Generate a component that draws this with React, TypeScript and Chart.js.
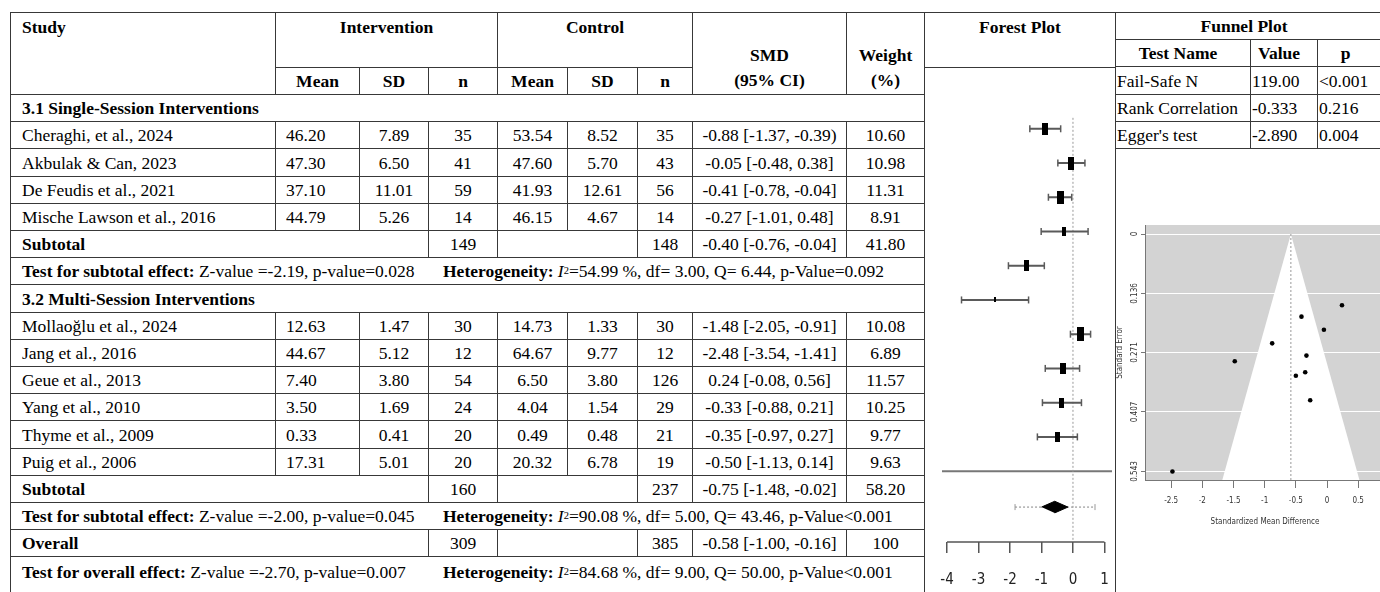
import React, { useEffect, useRef } from "react";
import { Chart, registerables } from "chart.js";
Chart.register(...registerables);

// ---------------- DATA ----------------
const studies = [
  "Cheraghi, et al., 2024",
  "Akbulak & Can, 2023",
  "De Feudis et al., 2021",
  "Mische Lawson et al., 2016",
  "Mollaoğlu et al., 2024",
  "Jang et al., 2016",
  "Geue et al., 2013",
  "Yang et al., 2010",
  "Thyme et al., 2009",
  "Puig et al., 2006",
];
const intMean = ["46.20", "47.30", "37.10", "44.79", "12.63", "44.67", "7.40", "3.50", "0.33", "17.31"];
const intSD = ["7.89", "6.50", "11.01", "5.26", "1.47", "5.12", "3.80", "1.69", "0.41", "5.01"];
const intN = ["35", "41", "59", "14", "30", "12", "54", "24", "20", "20"];
const ctrlMean = ["53.54", "47.60", "41.93", "46.15", "14.73", "64.67", "6.50", "4.04", "0.49", "20.32"];
const ctrlSD = ["8.52", "5.70", "12.61", "4.67", "1.33", "9.77", "3.80", "1.54", "0.48", "6.78"];
const ctrlN = ["35", "43", "56", "14", "30", "12", "126", "29", "21", "19"];
const smdLabels = [
  "-0.88 [-1.37, -0.39)",
  "-0.05 [-0.48, 0.38]",
  "-0.41 [-0.78, -0.04]",
  "-0.27 [-1.01, 0.48]",
  "-1.48 [-2.05, -0.91]",
  "-2.48 [-3.54, -1.41]",
  "0.24 [-0.08, 0.56]",
  "-0.33 [-0.88, 0.21]",
  "-0.35 [-0.97, 0.27]",
  "-0.50 [-1.13, 0.14]",
];
const smd = [-0.88, -0.05, -0.41, -0.27, -1.48, -2.48, 0.24, -0.33, -0.35, -0.5];
const ciLow = [-1.37, -0.48, -0.78, -1.01, -2.05, -3.54, -0.08, -0.88, -0.97, -1.13];
const ciHigh = [-0.39, 0.38, -0.04, 0.48, -0.91, -1.41, 0.56, 0.21, 0.27, 0.14];
const weights = [10.6, 10.98, 11.31, 8.91, 10.08, 6.89, 11.57, 10.25, 9.77, 9.63];
const stdErr = [0.25, 0.219, 0.189, 0.38, 0.291, 0.543, 0.163, 0.278, 0.316, 0.324];

const groupTitles = ["3.1 Single-Session Interventions", "3.2 Multi-Session Interventions"];
const groupStart = [0, 4];
const groupEnd = [4, 10];
const groupIntN = ["149", "160"];
const groupCtrlN = ["148", "237"];
const groupSMD = ["-0.40 [-0.76, -0.04]", "-0.75 [-1.48, -0.02]"];
const groupWeight = ["41.80", "58.20"];
const groupZ = ["Z-value =-2.19, p-value=0.028", "Z-value =-2.00, p-value=0.045"];
const groupHet = ["=54.99 %, df= 3.00, Q= 6.44, p-Value=0.092", "=90.08 %, df= 5.00, Q= 43.46, p-Value<0.001"];

const overallIntN = "309";
const overallCtrlN = "385";
const overallSMDLabel = "-0.58 [-1.00, -0.16]";
const overallWeight = "100";
const overallZ = "Z-value =-2.70, p-value=0.007";
const overallHet = "=84.68 %, df= 9.00, Q= 50.00, p-Value<0.001";

const overallSMD = -0.58;
const overallLow = -1.0;
const overallHigh = -0.16;
const predLow = -1.84;
const predHigh = 0.7;

const forestTicks = [-4, -3, -2, -1, 0, 1];

const testNames = ["Fail-Safe N", "Rank Correlation", "Egger's test"];
const testValues = ["119.00", "-0.333", "-2.890"];
const testP = ["<0.001", "0.216", "0.004"];

const funnelXTicks = [-2.5, -2, -1.5, -1, -0.5, 0, 0.5];
const funnelYTicks = [0, 0.136, 0.271, 0.407, 0.543];
const funnelSeMax = 0.5625;
const funnelTriangle = [
  { x: -1.68, y: 0.5625 },
  { x: -0.58, y: 0 },
  { x: 0.52, y: 0.5625 },
];

// ---------------- STYLE ----------------
const SERIF = "'Liberation Serif', 'Times New Roman', serif";
const NARROW = "'Liberation Sans Narrow', 'DejaVu Sans Condensed', 'Liberation Sans', sans-serif";
const LINE = "#383838";

const colX = [10, 275, 359, 428, 497, 567, 637, 692, 846, 924];
const rowTop = 94;
const rowStep = 27.2;
const rowY = (k: number) => Math.round(rowTop + k * rowStep);

// forest geometry (row units)
const F_XMIN = -4.16;
const F_XMAX = 1.24;
const F_YMIN = -1.6;
const F_YMAX = 12.07;
const F_SEP = 10;
const F_SUM = 11.05;

function makeBox(w: number, h: number) {
  const c = document.createElement("canvas");
  c.width = Math.max(1, Math.round(w));
  c.height = Math.max(1, Math.round(h));
  const g = c.getContext("2d")!;
  g.fillStyle = "#000";
  g.fillRect(0, 0, c.width, c.height);
  return c;
}

function forestConfig(): any {
  const idx = studies.map((_, i) => i);
  const wMin = Math.min(...weights);
  const wMax = Math.max(...weights);
  const boxes = idx.map((i) => {
    const ps = 0.5 + (weights[i] - wMin) / (wMax - wMin);
    return makeBox(ps * 4.6, ps * 9.3);
  });
  const ciData: any[] = [];
  idx.forEach((i) => {
    ciData.push({ x: ciLow[i], y: i }, { x: ciHigh[i], y: i }, { x: ciHigh[i], y: null });
  });
  return {
    type: "scatter",
    data: {
      datasets: [
        {
          type: "scatter",
          data: idx.map((i) => ({ x: smd[i], y: i })),
          pointStyle: boxes,
          pointRadius: 5,
          order: 0,
        },
        {
          type: "line",
          data: [
            { x: overallLow, y: F_SUM },
            { x: overallSMD, y: F_SUM - 0.17 },
            { x: overallHigh, y: F_SUM },
            { x: overallSMD, y: F_SUM + 0.17 },
          ],
          fill: "shape",
          backgroundColor: "#000",
          borderColor: "#000",
          borderWidth: 1,
          pointRadius: 0,
          order: 1,
        },
        {
          type: "scatter",
          data: idx.flatMap((i) => [
            { x: ciLow[i], y: i },
            { x: ciHigh[i], y: i },
          ]),
          pointStyle: "line",
          pointRotation: 90,
          pointRadius: 3.5,
          pointBorderColor: "#5a5a5a",
          pointBorderWidth: 1.5,
          order: 2,
        },
        {
          type: "line",
          data: ciData,
          borderColor: "#5a5a5a",
          borderWidth: 2,
          pointRadius: 0,
          spanGaps: false,
          order: 3,
        },
        {
          type: "line",
          data: [
            { x: predLow, y: F_SUM },
            { x: predHigh, y: F_SUM },
          ],
          borderColor: "#999",
          borderDash: [2, 2],
          borderWidth: 1.2,
          pointRadius: 0,
          order: 4,
        },
        {
          type: "scatter",
          data: [
            { x: predLow, y: F_SUM },
            { x: predHigh, y: F_SUM },
          ],
          pointStyle: "line",
          pointRotation: 90,
          pointRadius: 3,
          pointBorderColor: "#999",
          pointBorderWidth: 1,
          order: 4,
        },
        {
          type: "line",
          data: [
            { x: 0, y: -0.32 },
            { x: 0, y: F_YMAX },
          ],
          borderColor: "#999",
          borderDash: [2, 2],
          borderWidth: 1,
          pointRadius: 0,
          order: 5,
        },
        {
          type: "line",
          data: [
            { x: F_XMIN, y: F_SEP },
            { x: F_XMAX, y: F_SEP },
          ],
          borderColor: "#777",
          borderWidth: 2,
          pointRadius: 0,
          order: 6,
        },
        {
          type: "line",
          data: [
            { x: forestTicks[0], y: F_YMAX },
            { x: forestTicks[forestTicks.length - 1], y: F_YMAX },
          ],
          borderColor: "#555",
          borderWidth: 1.5,
          pointRadius: 0,
          clip: false,
          order: 7,
        },
      ],
    },
    options: {
      animation: false,
      responsive: false,
      maintainAspectRatio: false,
      events: [],
      layout: { padding: { left: 17, right: 2, top: 5, bottom: 0 } },
      plugins: { legend: { display: false }, tooltip: { enabled: false } },
      scales: {
        x: {
          type: "linear",
          min: F_XMIN,
          max: F_XMAX,
          afterBuildTicks: (s: any) => {
            s.ticks = forestTicks.map((v) => ({ value: v }));
          },
          afterFit: (s: any) => {
            s.height = 50;
          },
          border: { display: false },
          grid: { drawOnChartArea: false, drawTicks: true, tickLength: 11, color: "#555", lineWidth: 1.5 },
          ticks: {
            padding: 0,
            autoSkip: false,
            maxRotation: 0,
            color: "#222",
            font: { family: NARROW, size: 15, lineHeight: 1.2 },
            callback: (v: any) => ["", String(v)],
          },
        },
        y: { type: "linear", display: false, min: F_YMIN, max: F_YMAX, reverse: true },
      },
    },
  };
}

const plotBg = {
  id: "plotBg",
  beforeDraw(chart: any) {
    const { ctx, chartArea: a } = chart;
    ctx.save();
    ctx.fillStyle = "#d3d3d3";
    ctx.fillRect(a.left, a.top, a.right - a.left, a.bottom - a.top);
    ctx.restore();
  },
};

function funnelConfig(): any {
  const idx = studies.map((_, i) => i);
  return {
    type: "scatter",
    data: {
      datasets: [
        {
          type: "scatter",
          data: idx.map((i) => ({ x: smd[i], y: stdErr[i] })),
          pointRadius: 2.3,
          pointBackgroundColor: "#000",
          pointBorderColor: "#000",
          pointBorderWidth: 0,
          order: 0,
        },
        {
          type: "line",
          data: [
            { x: overallSMD, y: 0 },
            { x: overallSMD, y: funnelSeMax },
          ],
          borderColor: "#999",
          borderDash: [2, 2],
          borderWidth: 1,
          pointRadius: 0,
          order: 1,
        },
        {
          type: "line",
          data: funnelTriangle,
          fill: "shape",
          backgroundColor: "#ffffff",
          borderColor: "rgba(0,0,0,0)",
          borderWidth: 0,
          pointRadius: 0,
          order: 2,
        },
      ],
    },
    plugins: [plotBg],
    options: {
      animation: false,
      responsive: false,
      maintainAspectRatio: false,
      events: [],
      layout: { padding: { left: 0, right: 5, top: 25, bottom: 32 } },
      plugins: { legend: { display: false }, tooltip: { enabled: false } },
      scales: {
        x: {
          type: "linear",
          min: -2.92,
          max: 0.93,
          afterBuildTicks: (s: any) => {
            s.ticks = funnelXTicks.map((v) => ({ value: v }));
          },
          afterFit: (s: any) => {
            s.height = 48;
          },
          border: { display: true, color: "#777", width: 1 },
          grid: { drawOnChartArea: false, drawTicks: true, tickLength: 8, color: "#777" },
          ticks: {
            padding: 8,
            autoSkip: false,
            maxRotation: 0,
            color: "#333",
            font: { family: NARROW, size: 8 },
            callback: (v: any) => String(v),
          },
          title: {
            display: true,
            text: "Standardized Mean Difference",
            color: "#333",
            font: { family: NARROW, size: 8 },
            padding: { top: 0, bottom: 1 },
          },
        },
        y: {
          type: "linear",
          min: -0.0206,
          max: funnelSeMax,
          reverse: true,
          afterBuildTicks: (s: any) => {
            s.ticks = funnelYTicks.map((v) => ({ value: v }));
          },
          afterFit: (s: any) => {
            s.width = 30;
          },
          border: { display: true, color: "#777", width: 1 },
          grid: { color: "#ffffff", lineWidth: 1, tickColor: "#777", tickLength: 4, drawTicks: true },
          ticks: {
            minRotation: 90,
            maxRotation: 90,
            crossAlign: "center",
            padding: -4,
            autoSkip: false,
            color: "#333",
            font: { family: NARROW, size: 8 },
            callback: (v: any) => String(v),
          },
          title: {
            display: true,
            text: "Standard Error",
            color: "#333",
            font: { family: NARROW, size: 8 },
            padding: { top: 0, bottom: 0 },
          },
        },
      },
    },
  };
}

// ---------------- TABLE CELLS ----------------
type CellProps = {
  x0: number;
  x1: number;
  y0: number;
  y1: number;
  children?: any;
  align?: string;
  valign?: string;
  bold?: boolean;
  padL?: number;
  padT?: number;
  padR?: number;
  lh?: number;
};

function Cell(p: CellProps) {
  return (
    <div
      style={{
        position: "absolute",
        left: p.x0,
        top: p.y0,
        width: p.x1 - p.x0 + 1,
        height: p.y1 - p.y0 + 1,
        boxSizing: "border-box",
        border: `1px solid ${LINE}`,
        display: "flex",
        flexDirection: "column",
        alignItems: p.align || "center",
        justifyContent: p.valign || "center",
        paddingLeft: p.padL || 0,
        paddingRight: p.padR || 0,
        paddingTop: p.padT || 0,
        fontWeight: p.bold ? "bold" : "normal",
        whiteSpace: "nowrap",
        lineHeight: `${p.lh || 20}px`,
        textAlign: "center",
      }}
    >
      {p.children}
    </div>
  );
}

function Het({ text }: { text: string }) {
  return (
    <span style={{ position: "absolute", left: 432, top: 0, bottom: 0, display: "flex", alignItems: "center" }}>
      <b>Heterogeneity:</b>&nbsp;
      <i>I</i>
      <sup style={{ fontSize: "0.6em", lineHeight: 0, verticalAlign: "0.6em" }}>2</sup>
      {text}
    </span>
  );
}

function TestRow({ k, label, z, het }: { k: number; label: string; z: string; het: string }) {
  const last = k === 17;
  const y0 = rowY(k);
  const y1 = last ? 600 : rowY(k + 1);
  return (
    <Cell x0={colX[0]} x1={colX[9]} y0={y0} y1={y1} align="flex-start" valign={last ? "flex-start" : "center"} padL={11} padT={last ? 5 : 0}>
      <span>
        <b>{label}</b> {z}
      </span>
      <div style={{ position: "absolute", left: 0, top: last ? 5 : 0, height: last ? 20 : "100%", width: "100%" }}>
        <Het text={het} />
      </div>
    </Cell>
  );
}

function SummaryRow({ k, label, nI, nC, s, w }: { k: number; label: string; nI: string; nC: string; s: string; w: string }) {
  const y0 = rowY(k);
  const y1 = rowY(k + 1);
  return (
    <>
      <Cell x0={colX[0]} x1={colX[3]} y0={y0} y1={y1} align="flex-start" padL={11} bold>
        {label}
      </Cell>
      <Cell x0={colX[3]} x1={colX[4]} y0={y0} y1={y1}>{nI}</Cell>
      <Cell x0={colX[4]} x1={colX[6]} y0={y0} y1={y1} />
      <Cell x0={colX[6]} x1={colX[7]} y0={y0} y1={y1}>{nC}</Cell>
      <Cell x0={colX[7]} x1={colX[8]} y0={y0} y1={y1}>{s}</Cell>
      <Cell x0={colX[8]} x1={colX[9]} y0={y0} y1={y1}>{w}</Cell>
    </>
  );
}

function StudyRow({ k, i }: { k: number; i: number }) {
  const y0 = rowY(k);
  const y1 = rowY(k + 1);
  const vals = [intSD[i], intN[i], ctrlMean[i], ctrlSD[i], ctrlN[i], smdLabels[i], weights[i].toFixed(2)];
  return (
    <>
      <Cell x0={colX[0]} x1={colX[1]} y0={y0} y1={y1} align="flex-start" padL={11}>
        {studies[i]}
      </Cell>
      <Cell x0={colX[1]} x1={colX[2]} y0={y0} y1={y1} align="flex-start" padL={10}>
        {intMean[i]}
      </Cell>
      {vals.map((v, j) => (
        <Cell key={j} x0={colX[j + 2]} x1={colX[j + 3]} y0={y0} y1={y1}>
          {v}
        </Cell>
      ))}
    </>
  );
}

function MainTable() {
  const rows: any[] = [];
  let k = 0;
  for (let g = 0; g < 2; g++) {
    rows.push(
      <Cell key={`s${g}`} x0={colX[0]} x1={colX[9]} y0={rowY(k)} y1={rowY(k + 1)} align="flex-start" padL={11} bold>
        {groupTitles[g]}
      </Cell>
    );
    k++;
    for (let i = groupStart[g]; i < groupEnd[g]; i++) {
      rows.push(<StudyRow key={`r${i}`} k={k} i={i} />);
      k++;
    }
    rows.push(
      <SummaryRow key={`sub${g}`} k={k} label="Subtotal" nI={groupIntN[g]} nC={groupCtrlN[g]} s={groupSMD[g]} w={groupWeight[g]} />
    );
    k++;
    rows.push(<TestRow key={`t${g}`} k={k} label="Test for subtotal effect:" z={groupZ[g]} het={groupHet[g]} />);
    k++;
  }
  rows.push(<SummaryRow key="ov" k={k} label="Overall" nI={overallIntN} nC={overallCtrlN} s={overallSMDLabel} w={overallWeight} />);
  k++;
  rows.push(<TestRow key="tov" k={k} label="Test for overall effect:" z={overallZ} het={overallHet} />);

  const subHead = ["Mean", "SD", "n", "Mean", "SD", "n"];
  return (
    <>
      <Cell x0={colX[0]} x1={colX[1]} y0={12} y1={94} align="flex-start" valign="flex-start" padL={11} padT={4} bold>
        Study
      </Cell>
      <Cell x0={colX[1]} x1={colX[4]} y0={12} y1={67} valign="flex-start" padT={4} bold>
        Intervention
      </Cell>
      <Cell x0={colX[4]} x1={colX[7]} y0={12} y1={67} valign="flex-start" padT={4} bold>
        Control
      </Cell>
      <Cell x0={colX[7]} x1={colX[8]} y0={12} y1={94} valign="flex-start" padT={30} lh={25} bold>
        <span>SMD</span>
        <span>(95% CI)</span>
      </Cell>
      <Cell x0={colX[8]} x1={colX[9]} y0={12} y1={94} valign="flex-start" padT={30} lh={25} bold>
        <span>Weight</span>
        <span>(%)</span>
      </Cell>
      {subHead.map((h, j) => (
        <Cell key={`h${j}`} x0={colX[j + 1]} x1={colX[j + 2]} y0={67} y1={94} bold>
          {h}
        </Cell>
      ))}
      {rows}
    </>
  );
}

function SideColumns() {
  const fx0 = 924;
  const fx1 = 1115;
  const rx = 1390;
  const tCols = [1115, 1250, 1317, rx];
  const tRows = [39, 66, 94, 121, 148];
  return (
    <>
      <Cell x0={fx0} x1={fx1} y0={12} y1={67} valign="flex-start" padT={4} bold>
        Forest Plot
      </Cell>
      <Cell x0={fx0} x1={fx1} y0={67} y1={600} />
      <Cell x0={fx1} x1={rx} y0={12} y1={39} padR={18} bold>
        Funnel Plot
      </Cell>
      <Cell x0={tCols[0]} x1={tCols[1]} y0={tRows[0]} y1={tRows[1]} padR={10} bold>
        Test Name
      </Cell>
      <Cell x0={tCols[1]} x1={tCols[2]} y0={tRows[0]} y1={tRows[1]} padR={10} bold>
        Value
      </Cell>
      <Cell x0={tCols[2]} x1={tCols[3]} y0={tRows[0]} y1={tRows[1]} padR={17} bold>
        p
      </Cell>
      {testNames.map((n, i) => (
        <React.Fragment key={n}>
          <Cell x0={tCols[0]} x1={tCols[1]} y0={tRows[i + 1]} y1={tRows[i + 2]} align="flex-start" padL={1}>
            {n}
          </Cell>
          <Cell x0={tCols[1]} x1={tCols[2]} y0={tRows[i + 1]} y1={tRows[i + 2]} align="flex-start" padL={1}>
            {testValues[i]}
          </Cell>
          <Cell x0={tCols[2]} x1={tCols[3]} y0={tRows[i + 1]} y1={tRows[i + 2]} align="flex-start" padL={1}>
            {testP[i]}
          </Cell>
        </React.Fragment>
      ))}
      <Cell x0={fx1} x1={rx} y0={148} y1={600} />
    </>
  );
}

export default function App() {
  const forestRef = useRef<HTMLCanvasElement>(null);
  const funnelRef = useRef<HTMLCanvasElement>(null);
  useEffect(() => {
    const fc = new Chart(forestRef.current as HTMLCanvasElement, forestConfig());
    const uc = new Chart(funnelRef.current as HTMLCanvasElement, funnelConfig());
    return () => {
      fc.destroy();
      uc.destroy();
    };
  }, []);
  return (
    <div
      style={{
        position: "absolute",
        left: 0,
        top: 0,
        width: 1380,
        height: 592,
        overflow: "hidden",
        background: "#fff",
        fontFamily: SERIF,
        fontSize: 17.5,
        color: "#000",
      }}
    >
      <MainTable />
      <SideColumns />
      <canvas ref={forestRef} width={193} height={524} style={{ position: "absolute", left: 925, top: 68 }} />
      <canvas ref={funnelRef} width={275} height={360} style={{ position: "absolute", left: 1115, top: 200 }} />
    </div>
  );
}
